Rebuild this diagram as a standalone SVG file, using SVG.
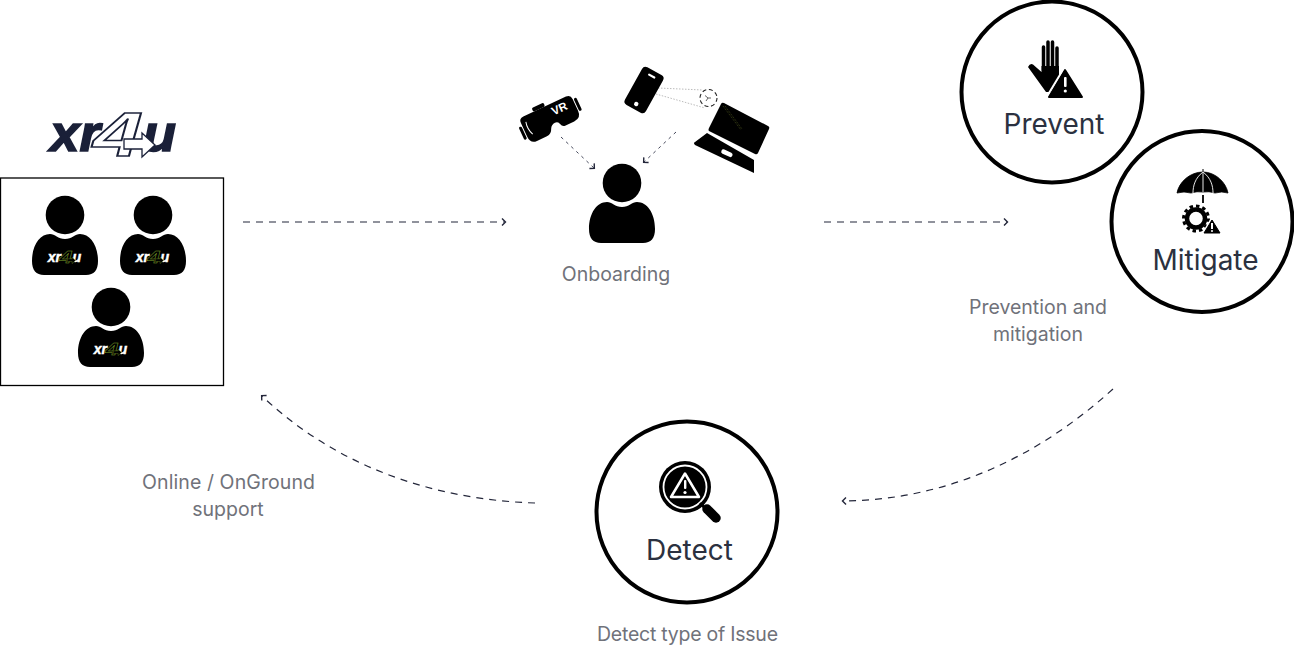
<svg xmlns="http://www.w3.org/2000/svg" width="1294" height="647" viewBox="0 0 1294 647">
<style>
.lbl{font-family:Inter,"Liberation Sans",sans-serif;font-size:19.5px;fill:#70727a;text-anchor:middle}
.ttl{font-family:Inter,"Liberation Sans",sans-serif;font-size:28px;fill:#2b3140;text-anchor:middle}
.ring{fill:#fff;stroke:#000;stroke-width:4}
.conn{fill:none;stroke:#23263a;stroke-width:1.2;stroke-dasharray:7 6;marker-end:url(#chev)}
.conn2{fill:none;stroke:#44475a;stroke-width:1;stroke-dasharray:3 4;marker-end:url(#chev)}
.dot{fill:none;stroke:#aaa;stroke-width:.8;stroke-dasharray:1.5 1.5}
.lx{font-family:"Liberation Sans",sans-serif;font-weight:bold;font-style:italic}
</style>
<defs>
<marker id="chev" markerWidth="10" markerHeight="10" refX="6" refY="5" orient="auto" markerUnits="userSpaceOnUse"><path d="M3,1.500 L6.500,5 L3,8.500" fill="none" stroke="#23263a" stroke-width="1.400"/></marker>
<g id="logo">
<text class="lx" x="50" y="151" font-size="52" fill="currentColor" stroke="currentColor" stroke-width="1.600" textLength="50" lengthAdjust="spacingAndGlyphs">xr</text>
<text class="lx" x="143" y="151" font-size="52" fill="currentColor" stroke="currentColor" stroke-width="1.600" textLength="33" lengthAdjust="spacingAndGlyphs">u</text>
<text class="lx" x="93" y="155.500" font-size="63" fill="var(--f,#fff)" stroke="var(--s,#1a2038)" stroke-width="1.500" textLength="50" lengthAdjust="spacingAndGlyphs">4</text>
<path d="M142,133 L155,145 L142,157 L142,149 L124,149 L124,139 L142,139Z" fill="var(--f,#fff)" stroke="var(--s,#1a2038)" stroke-width="1.300"/>
</g>
<g id="person">
<circle cx="65" cy="215" r="19.300"/>
<path d="M32,261C32,245 40,234 50,234C55,234 58,239 65,239C72,239 75,234 80,234C90,234 98,245 98,261C98,270 94,275 86,275H44C36,275 32,270 32,261Z"/>
</g>
<g id="shirt" transform="translate(34.500,222) scale(.265)" color="#fff" style="--f:#000;--s:#7fa32a"><use href="#logo"/></g>
</defs>

<g id="connectors">
<path class="conn" d="M243,222H505"/>
<path class="conn" d="M824,222H1007"/>
<path class="conn" d="M1113,389C1040,455 950,500 843,501"/>
<path class="conn" d="M535,503C440,500 340,470 262,396"/>
<path class="conn2" d="M561,137L594,168"/>
<path class="conn2" d="M676,132L644,162"/>
<path class="dot" d="M658,88L703,90M656,94L705,108"/>
</g>

<g id="xr4u-team">
<g id="logo-main" color="#1a2038"><use href="#logo"/></g>
<rect x=".5" y="178" width="223" height="207.500" fill="none" stroke="#000" stroke-width="1.300"/>
<g id="member-1"><use href="#person"/><use href="#shirt"/></g>
<g id="member-2" transform="translate(88,0)"><use href="#person"/><use href="#shirt"/></g>
<g id="member-3" transform="translate(46,92)"><use href="#person"/><use href="#shirt"/></g>
</g>

<g id="onboarding">
<g transform="translate(557,-32)"><use href="#person"/></g>
<g id="vr" transform="translate(551,119) rotate(-25)">
<path d="M-24,-14H23Q28,-14 28,-9V4Q28,12 20,12H10Q7,12 6,8Q5,5 2,5Q-2,5 -4,9Q-6,14 -11,14H-22Q-29,14 -29,6V-9Q-29,-14 -24,-14Z"/>
<rect x="-13" y="-18" width="13" height="4" rx="1.500"/>
<rect x="-33" y="-6" width="3" height="14" rx="1.500"/>
<rect x="29" y="-9" width="3" height="14" rx="1.500"/>
<path d="M-24,-8Q-26,-1 -23,6" fill="none" stroke="#fff" stroke-width="1"/>
<text x="12" y="-2" font-family="Liberation Sans,sans-serif" font-weight="bold" font-size="11.500" fill="#fff" text-anchor="middle">VR</text>
</g>
<g id="phone" transform="translate(644,90) rotate(29)">
<rect x="-12" y="-21.500" width="24" height="43" rx="4"/>
<rect x="-4" y="-17" width="8" height="2.200" rx="1" fill="#fff"/>
<circle cx="0" cy="16" r="2.200" fill="#fff"/>
</g>
<g id="target" fill="none" stroke="#222" stroke-width="1.100">
<circle cx="708.500" cy="98" r="8.500" stroke-dasharray="4 2.700"/>
<path d="M705,95.500L708,98L711,98M708,98L706,101" stroke-width=".7"/>
</g>
<g id="laptop">
<path d="M724,103L768,126Q770,127 769,129L758,153Q757,155 755,154L709,131Q708,130 709,128L721,104Q722,102 724,103Z"/>
<path d="M707,133L754,160L754,173L695,145Q693,143 695,142Z"/>
<rect x="721" y="151" width="12" height="4.500" rx="2.200" fill="#fff" transform="rotate(25 727 153)"/>
<path d="M723,106L741,130M725,106L742,129" stroke="#6f7a2a" stroke-width=".5" fill="none" stroke-dasharray="1 1"/>
</g>
<text class="lbl" x="616" y="281">Onboarding</text>
</g>

<g id="prevent">
<circle class="ring" cx="1052" cy="92" r="90.500"/>
<g stroke="#000" stroke-width="3.500" stroke-linecap="round" fill="none"><path d="M1043.500,47V70M1048,42V70M1052.500,42V70M1057,48V70"/></g>
<path d="M1041.500,66V72L1033,64.500Q1030,63 1028,67L1046,92H1050L1059,76V66Z"/>
<path d="M1065,70L1082,97H1049Z" stroke="#000" stroke-width="2" stroke-linejoin="round"/>
<path d="M1064.500,67L1047,96" stroke="#fff" stroke-width="1.500" fill="none"/>
<rect x="1064" y="77" width="2.600" height="10" rx="1" fill="#fff"/><circle cx="1065.300" cy="91" r="1.600" fill="#fff"/>
<text class="ttl" x="1054" y="134">Prevent</text>
</g>

<g id="mitigate">
<circle class="ring" cx="1202" cy="221.500" r="90.500"/>
<path d="M1203,172C1190,172 1179,182 1177,193Q1184,191 1191,193Q1197,191 1203,192Q1209,191 1215,193Q1222,191 1228,193C1226,182 1215,172 1203,172Z" stroke="#000" stroke-width=".8"/>
<path d="M1203,172V169" stroke="#000"/>
<path d="M1203,172C1195,178 1193,186 1193,193M1203,172C1211,178 1213,186 1213,193M1203,173V192" fill="none" stroke="#fff" stroke-width=".9"/>
<path d="M1203,195V203" stroke="#000" stroke-width="1.800"/>
<circle cx="1196" cy="218.500" r="9" fill="none" stroke="#000" stroke-width="4.500"/>
<circle cx="1196" cy="218.500" r="12.500" fill="none" stroke="#000" stroke-width="3" stroke-dasharray="3.500 3"/>
<path d="M1212,218L1223,235H1202Z" fill="#fff" stroke="#fff" stroke-width="2" stroke-linejoin="round"/>
<path d="M1212,220L1220,233H1204Z" stroke="#000" stroke-width="1" stroke-linejoin="round"/>
<rect x="1211" y="223" width="2" height="6" fill="#fff"/><circle cx="1212" cy="231" r="1" fill="#fff"/>
<text class="ttl" x="1205.500" y="270">Mitigate</text>
<text class="lbl" x="1038" y="314">Prevention and</text>
<text class="lbl" x="1038" y="341">mitigation</text>
</g>

<g id="detect">
<circle class="ring" cx="687" cy="512" r="90.500"/>
<circle cx="685" cy="487" r="26"/>
<circle cx="685" cy="487" r="21.500" fill="none" stroke="#fff" stroke-width="1.800"/>
<path d="M700,503L707,510" stroke="#000" stroke-width="3"/>
<path d="M707,509L716,518" stroke="#000" stroke-width="9.500" stroke-linecap="round"/>
<path d="M685,473.500L699,497H671Z" fill="none" stroke="#fff" stroke-width="2.500" stroke-linejoin="round"/>
<rect x="684" y="480" width="2.400" height="9" rx="1" fill="#fff"/><circle cx="685" cy="492.500" r="1.600" fill="#fff"/>
<text class="ttl" x="689.500" y="560">Detect</text>
<text class="lbl" x="687.500" y="641" textLength="181" lengthAdjust="spacing">Detect type of Issue</text>
</g>

<g id="support">
<text class="lbl" x="228.500" y="489" textLength="173" lengthAdjust="spacing">Online / OnGround</text>
<text class="lbl" x="228" y="516">support</text>
</g>
</svg>
